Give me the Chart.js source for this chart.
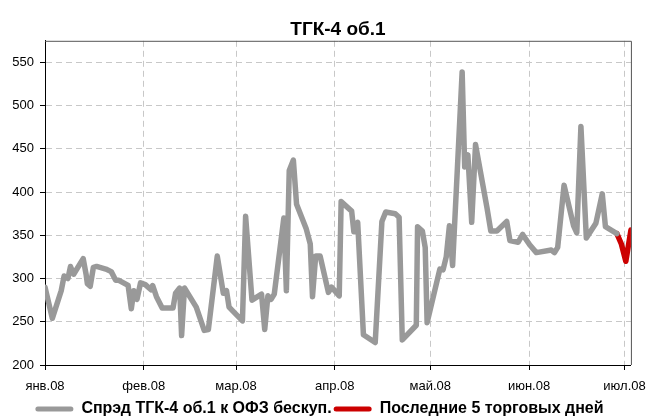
<!DOCTYPE html>
<html>
<head>
<meta charset="utf-8">
<script src="https://cdn.jsdelivr.net/npm/chart.js@4.4.1/dist/chart.umd.min.js"></script>
<style>
  html, body { margin: 0; padding: 0; background: #fff; }
  #wrap { width: 655px; height: 417px; }
</style>
</head>
<body>
<div id="wrap"><canvas id="spreadChart"></canvas></div>
<script>
// x values are days counted from 1 Jan 2008
const monthDays = [0, 31, 60, 91, 121, 152, 182];
const monthLabels = ['янв.08', 'фев.08', 'мар.08', 'апр.08', 'май.08', 'июн.08', 'июл.08'];
const yTicks = [200, 250, 300, 350, 400, 450, 500, 550];

const spreadDays = [0, 2.3, 5.1, 6, 7.2, 8, 9, 12, 12.9, 13.3, 14.2, 15.2, 16.2, 19.1, 20.8, 22.2, 23.2, 26.1, 27.1, 27.9,
  28.9, 30, 31.5, 33.3, 33.8, 35, 36.8, 40.2, 41, 42.3, 42.9, 43.8, 47.5, 50, 51.3, 54.1, 56, 57, 57.8, 62,
  63, 65, 68, 69, 70, 71, 72, 75, 75.8, 76.7, 78, 79, 82, 83.3, 84, 85, 86.4, 89, 90, 92.4,
  93, 96.3, 97, 98.2, 100, 103.7, 105.8, 107, 110, 111.2, 112.2, 116.6, 117, 118.5, 119.4, 120, 124, 125, 126, 127,
  128, 131, 131.8, 132.8, 134, 135.2, 138.8, 140, 141.9, 145, 146, 148.6, 150, 152.2, 154.3, 159, 160, 161, 163, 166,
  167, 168.3, 170, 173, 175, 176, 179.6];
const spreadValues = [290, 254, 286, 303, 300, 314, 305, 323, 305, 294, 291, 313, 314, 311, 308, 298, 298, 292, 265, 286,
  276, 295, 293, 287, 292, 279, 266, 266, 283, 289, 234, 289, 267, 240, 241, 326, 283, 286, 267, 251,
  372, 275, 282, 241, 280, 276, 282, 370, 286, 425, 437, 386, 358, 340, 279, 326, 326, 284, 290, 280,
  389, 378, 354, 365, 235, 226, 366, 377, 375, 371, 229, 246, 360, 355, 336, 249, 311, 310, 325, 361,
  315, 539, 429, 443, 365, 455, 382, 355, 355, 366, 344, 342, 351, 339, 330, 333, 330, 336, 408, 361,
  353, 476, 347, 364, 398, 360, 352];

const lastDays = [179.6, 181, 182.4, 183.3, 184];
const lastValues = [352, 340, 320, 340, 356];

const toPoints = (xs, ys) => xs.map((x, i) => ({ x: x, y: ys[i] }));

Chart.defaults.font.family = '"Liberation Sans", Arial, sans-serif';
Chart.defaults.color = '#000';

const frame = {
  id: 'frame',
  beforeDatasetsDraw(chart) {
    const { ctx, chartArea: a } = chart;
    ctx.save();
    ctx.strokeStyle = '#555';
    ctx.lineWidth = 1;
    ctx.beginPath();
    ctx.moveTo(a.left, a.top + 0.5);
    ctx.lineTo(a.right + 0.5, a.top + 0.5);
    ctx.lineTo(a.right + 0.5, a.bottom);
    ctx.stroke();
    ctx.restore();
  }
};

const ctx = document.getElementById('spreadChart').getContext('2d');
new Chart(ctx, {
  type: 'line',
  data: {
    datasets: [{
      label: 'Спрэд ТГК-4 об.1 к ОФЗ бескуп.',
      data: toPoints(spreadDays, spreadValues),
      borderColor: '#999999',
      backgroundColor: '#999999',
      borderWidth: 5.5,
      borderJoinStyle: 'round',
      borderCapStyle: 'round',
      pointRadius: 0,
      tension: 0
    }, {
      label: 'Последние 5 торговых дней',
      data: toPoints(lastDays, lastValues),
      borderColor: '#cc0000',
      backgroundColor: '#cc0000',
      borderWidth: 5.5,
      borderJoinStyle: 'round',
      borderCapStyle: 'round',
      pointRadius: 0,
      tension: 0
    }]
  },
  options: {
    responsive: true,
    maintainAspectRatio: false,
    animation: false,
    events: [],
    // legend sits low, so let its box run past the canvas bottom
    layout: { padding: { left: 0, right: 16, top: 0, bottom: -10 } },
    plugins: {
      title: {
        display: true,
        text: 'ТГК-4 об.1',
        fullSize: false,
        font: { family: '"Liberation Sans Narrow", "Liberation Sans", Arial, sans-serif', size: 19, weight: 'bold' },
        color: '#000',
        padding: { top: 18, bottom: 0 }
      },
      legend: {
        position: 'bottom',
        labels: {
          boxWidth: 38,
          boxHeight: 5,
          padding: 2,
          font: { family: '"Liberation Sans Narrow", "Liberation Sans", Arial, sans-serif', size: 16, weight: 'bold' },
          generateLabels(chart) {
            return chart.data.datasets.map((ds, i) => ({
              text: ds.label,
              fillStyle: ds.borderColor,
              strokeStyle: ds.borderColor,
              lineWidth: 0,
              borderRadius: 2.5,
              fontColor: '#000',
              datasetIndex: i
            }));
          }
        }
      },
      tooltip: { enabled: false }
    },
    scales: {
      x: {
        type: 'linear',
        min: 0,
        max: 184,
        afterBuildTicks(scale) { scale.ticks = monthDays.map(v => ({ value: v })); },
        afterFit(scale) { scale.height = 34; },
        ticks: {
          autoSkip: false,
          maxRotation: 0,
          padding: 9,
          font: { size: 13 },
          callback: (v) => monthLabels[monthDays.indexOf(v)]
        },
        grid: { color: '#c8c8c8', tickColor: '#000', tickLength: 5, tickBorderDash: [] },
        border: { color: '#000', width: 1, dash: [6, 4] }
      },
      y: {
        min: 200,
        max: 575,
        afterBuildTicks(scale) { scale.ticks = yTicks.map(v => ({ value: v })); },
        afterFit(scale) { scale.width = 45; },
        ticks: { padding: 6, font: { size: 13 } },
        grid: { color: '#c8c8c8', tickColor: '#000', tickLength: 5, tickBorderDash: [] },
        border: { color: '#000', width: 1, dash: [6, 4] }
      }
    }
  },
  plugins: [frame]
});
</script>
</body>
</html>
